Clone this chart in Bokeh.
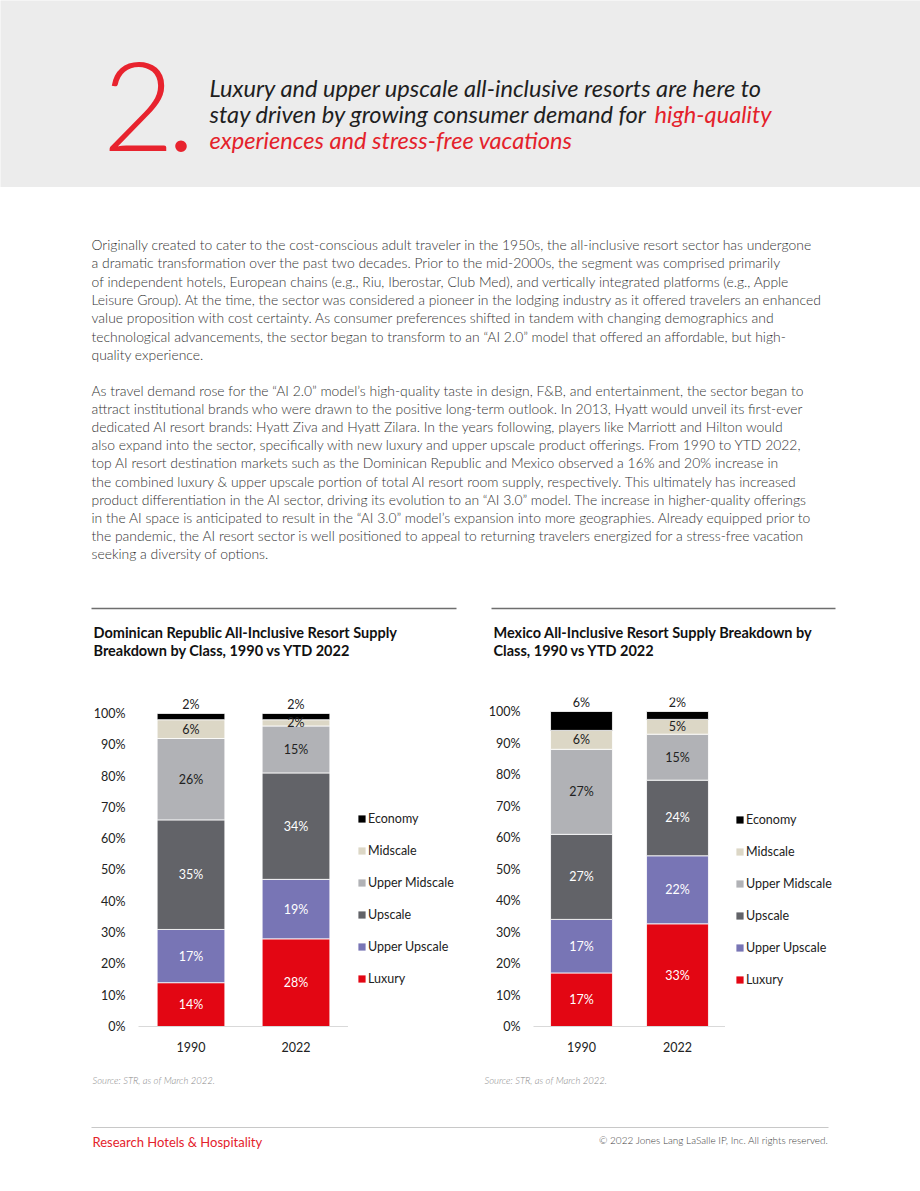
import numpy as np
from bokeh.plotting import figure
from bokeh.models import (Range1d, FactorRange, ColumnDataSource, Legend, LegendItem,
                          FixedTicker, PrintfTickFormatter)
from bokeh.layouts import column, row
from bokeh.core.properties import value
from bokeh.embed import file_html
from bokeh.resources import INLINE

# ---------------- data ----------------
classes = ["Luxury", "Upper Upscale", "Upscale", "Upper Midscale", "Midscale", "Economy"]
class_colors = ["#e30613", "#7875b5", "#626368", "#b1b2b6", "#dcd7c6", "#000000"]
label_colors = ["white", "white", "white", "#222222", "#222222", "#222222"]
years = ["1990", "2022"]
dr_1990 = [14, 17, 35, 26, 6, 2]
dr_2022 = [28, 19, 34, 15, 2, 2]
mx_1990 = [17, 17, 27, 27, 6, 6]
mx_2022 = [32.6, 21.6, 24.0, 14.6, 4.7, 2.5]
y_ticks = [0, 10, 20, 30, 40, 50, 60, 70, 80, 90, 100]

dr_title = ["Dominican Republic All-Inclusive Resort Supply", "Breakdown by Class, 1990 vs YTD 2022"]
mx_title = ["Mexico All-Inclusive Resort Supply Breakdown by", "Class, 1990 vs YTD 2022"]
source_note = "Source: STR, as of March 2022."

heading = ["Luxury and upper upscale all-inclusive resorts are here to",
           "stay driven by growing consumer demand for ",
           "high-quality",
           "experiences and stress-free vacations"]

para1 = [
    "Originally created to cater to the cost-conscious adult traveler in the 1950s, the all-inclusive resort sector has undergone",
    "a dramatic transformation over the past two decades. Prior to the mid-2000s, the segment was comprised primarily",
    "of independent hotels, European chains (e.g., Riu, Iberostar, Club Med), and vertically integrated platforms (e.g., Apple",
    "Leisure Group). At the time, the sector was considered a pioneer in the lodging industry as it offered travelers an enhanced",
    "value proposition with cost certainty. As consumer preferences shifted in tandem with changing demographics and",
    "technological advancements, the sector began to transform to an \u201cAI 2.0\u201d model that offered an affordable, but high-",
    "quality experience.",
]
para2 = [
    "As travel demand rose for the \u201cAI 2.0\u201d model\u2019s high-quality taste in design, F&B, and entertainment, the sector began to",
    "attract institutional brands who were drawn to the positive long-term outlook. In 2013, Hyatt would unveil its first-ever",
    "dedicated AI resort brands: Hyatt Ziva and Hyatt Zilara. In the years following, players like Marriott and Hilton would",
    "also expand into the sector, specifically with new luxury and upper upscale product offerings. From 1990 to YTD 2022,",
    "top AI resort destination markets such as the Dominican Republic and Mexico observed a 16% and 20% increase in",
    "the combined luxury & upper upscale portion of total AI resort room supply, respectively. This ultimately has increased",
    "product differentiation in the AI sector, driving its evolution to an \u201cAI 3.0\u201d model. The increase in higher-quality offerings",
    "in the AI space is anticipated to result in the \u201cAI 3.0\u201d model\u2019s expansion into more geographies. Already equipped prior to",
    "the pandemic, the AI resort sector is well positioned to appeal to returning travelers energized for a stress-free vacation",
    "seeking a diversity of options.",
]

# ---------------- styles ----------------
LIGHT = value("'Lato Light', Lato")
REG = value("Lato")
RED = "#e4222b"
W = 920


def canvas(x0, y0, w, h, bg="white"):
    p = figure(width=w, height=h, x_range=Range1d(x0, x0 + w), y_range=Range1d(y0 + h, y0),
               x_axis_type=None, y_axis_type=None, output_backend="svg", toolbar_location=None,
               min_border=0, background_fill_color=bg, border_fill_color=bg, outline_line_color=None)
    return p


def txt(p, xs, ys, texts, size, color, font=LIGHT, style="normal", align="left", baseline="middle"):
    p.text(x=xs, y=ys, text=texts, text_font=font, text_font_size=size, text_color=color,
           text_font_style=style, text_align=align, text_baseline=baseline)


# ---------------- header ----------------
head = canvas(0, 0, W, 187, bg="#ececec")
txt(head, [102], [106], ["2"], "124px", "#e8232e")
txt(head, [166], [106], ["."], "124px", "#e8232e")
txt(head, [209], [87], [heading[0]], "23.6px", "#1f1f1f", font=REG, style="italic")
txt(head, [209], [113], [heading[1]], "23.6px", "#1f1f1f", font=REG, style="italic")
txt(head, [654], [113], [heading[2]], "23.6px", RED, font=REG, style="italic")
txt(head, [209], [139], [heading[3]], "23.6px", RED, font=REG, style="italic")

# ---------------- body text ----------------
body = canvas(0, 187, W, 498)
txt(body, [91] * len(para1), [244 + i * 18.3 for i in range(len(para1))], para1, "13.9px", "#333333")
txt(body, [91] * len(para2), [390 + i * 18.1 for i in range(len(para2))], para2, "13.9px", "#333333")
body.segment(x0=[91, 491], y0=[608, 608], x1=[456, 835], y1=[608, 608], line_color="#6e6e6e", line_width=1.5)
txt(body, [93, 93], [632, 650], dr_title, "14.5px", "#111111", font=REG, style="bold")
txt(body, [493, 493], [632, 650], mx_title, "14.5px", "#111111", font=REG, style="bold")


# ---------------- charts ----------------
def chart(v1990, v2022, border_left, frame_w, border_bottom, ymax):
    data = {"year": years}
    for i, c in enumerate(classes):
        data[c] = [v1990[i], v2022[i]]
    src = ColumnDataSource(data)

    p = figure(width=border_left + frame_w, height=385,
               x_range=FactorRange(*years, range_padding=0, factor_padding=0),
               y_range=Range1d(0, ymax), output_backend="svg", toolbar_location=None,
               min_border_left=border_left, min_border_right=0,
               min_border_top=12, min_border_bottom=border_bottom,
               background_fill_color="white", border_fill_color="white", outline_line_color=None)
    p.grid.visible = False

    p.vbar_stack(classes, x="year", width=0.645, color=class_colors, source=src,
                 line_color="white", line_width=0.8)

    # segment labels
    lx, ly, lt, lc = [], [], [], []
    ex, ey, et = [], [], []
    for yr, vals in zip(years, [v1990, v2022]):
        base = 0.0
        for i, v in enumerate(vals):
            if classes[i] == "Economy":
                ex.append(yr); ey.append(base + v); et.append(f"{round(v)}%")
            else:
                lx.append(yr); ly.append(base + v / 2); lt.append(f"{round(v)}%"); lc.append(label_colors[i])
            base += v
    p.text(x="x", y="y", text="t", text_color="c",
           source=ColumnDataSource(dict(x=lx, y=ly, t=lt, c=lc)),
           text_font=REG, text_font_size="12.5px", text_align="center", text_baseline="middle")
    p.text(x="x", y="y", text="t", source=ColumnDataSource(dict(x=ex, y=ey, t=et)),
           text_color="#222222", text_font=REG, text_font_size="12.5px",
           text_align="center", text_baseline="middle", y_offset=-9)

    # axes
    yax = p.yaxis[0]
    yax.ticker = FixedTicker(ticks=y_ticks)
    yax.formatter = PrintfTickFormatter(format="%d%%")
    yax.axis_line_color = None
    yax.major_tick_line_color = None
    yax.minor_tick_line_color = None
    yax.major_tick_out = 0
    yax.major_tick_in = 0
    yax.major_label_standoff = 13
    yax.major_label_text_font = "Lato"
    yax.major_label_text_font_size = "12.5px"
    yax.major_label_text_color = "#222222"

    xax = p.xaxis[0]
    xax.axis_line_color = "#d9d9d9"
    xax.axis_line_width = 1
    xax.major_tick_line_color = None
    xax.minor_tick_line_color = None
    xax.major_tick_out = 0
    xax.major_tick_in = 0
    xax.major_label_standoff = 15
    xax.major_label_text_font = "Lato"
    xax.major_label_text_font_size = "12.5px"
    xax.major_label_text_color = "#222222"
    return p


def legend_panel(width, loc, spacing):
    p = canvas(0, 685, width, 385)
    rs = [p.vbar(x=np.array([np.nan]), top=np.array([np.nan]), width=1,
                 fill_color=c, line_color=None) for c in class_colors]
    items = [LegendItem(label=c, renderers=[r]) for c, r in zip(classes, rs)][::-1]
    leg = Legend(items=items, location=loc, orientation="vertical",
                 glyph_width=9, glyph_height=9, label_standoff=2, label_height=12,
                 spacing=spacing, padding=0, margin=0,
                 label_text_font="Lato", label_text_font_size="12.5px", label_text_color="#222222",
                 background_fill_alpha=0, border_line_alpha=0)
    p.add_layout(leg)
    return p


left = chart(dr_1990, dr_2022, 138, 210, 43, 330 / 3.14)
left_leg = legend_panel(122, (9, 40), 17)
right = chart(mx_1990, mx_2022, 63, 192, 44, 329 / 3.15)
right_leg = legend_panel(195, (10, 39), 17)

# ---------------- footer ----------------
foot = canvas(0, 1070, W, 113)
txt(foot, [92, 484], [1080, 1080], [source_note, source_note], "9.5px", "#8a8a8a", style="italic")
foot.segment(x0=[91], y0=[1127], x1=[828], y1=[1127], line_color="#c8c8c8", line_width=1.2)
txt(foot, [92], [1141], ["Research Hotels & Hospitality"], "13px", RED, font=REG)
txt(foot, [828], [1139], ["\u00a9 2022 Jones Lang LaSalle IP, Inc. All rights reserved."], "10px", "#444444",
    align="right")

page = column(head, body, row(left, left_leg, right, right_leg), foot)
open("out.html", "w").write(file_html(page, INLINE))
